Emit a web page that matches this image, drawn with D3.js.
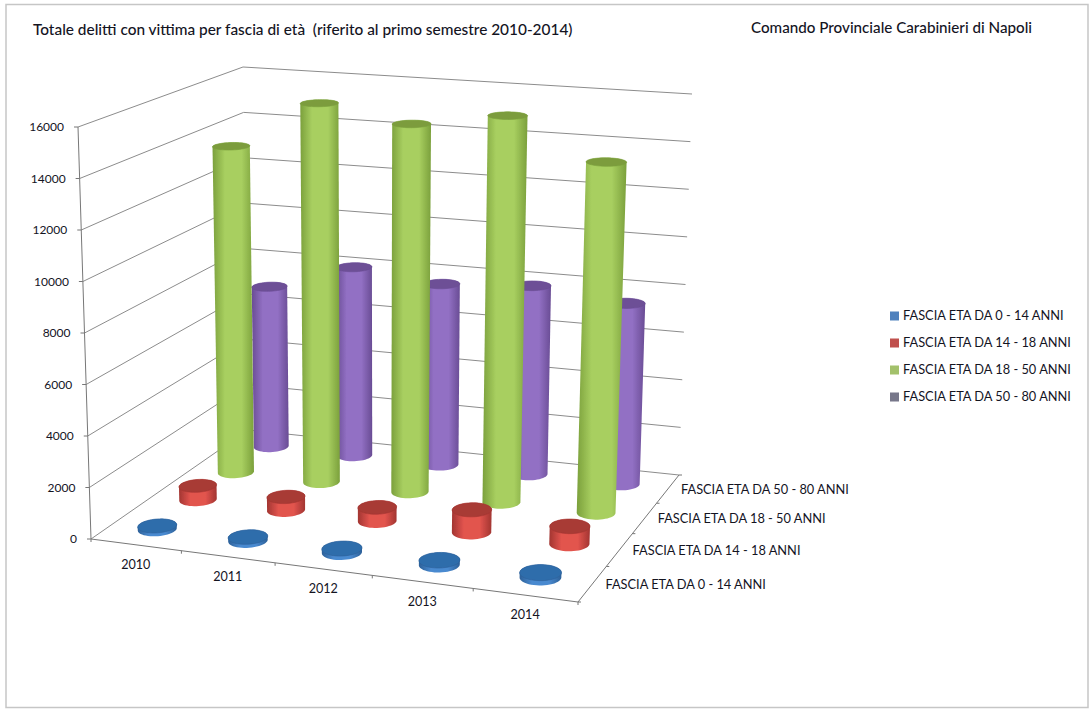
<!DOCTYPE html>
<html>
<head>
<meta charset="utf-8">
<script src="https://d3js.org/d3.v7.min.js"></script>
<style>
  html, body { margin: 0; padding: 0; background: #fff; }
  text { font-family: Lato, "Open Sans", sans-serif; fill: #14141f; white-space: pre; }
</style>
</head>
<body>
<div id="container"></div>
<script>
const years = ['2010', '2011', '2012', '2013', '2014'];
const seriesNames = ['FASCIA ETA DA 0 - 14 ANNI', 'FASCIA ETA DA 14 - 18 ANNI', 'FASCIA ETA DA 18 - 50 ANNI', 'FASCIA ETA DA 50 - 80 ANNI'];
const age0to14 = [130, 140, 150, 170, 180];
const age14to18 = [560, 530, 540, 880, 680];
const age18to50 = [13650, 15700, 15100, 15700, 14100];
const age50to80 = [6900, 8050, 7650, 7900, 7500];
const seriesValues = [age0to14, age14to18, age18to50, age50to80];
const yTicks = [0, 2000, 4000, 6000, 8000, 10000, 12000, 14000, 16000];
const titleText = 'Totale delitti con vittima per fascia di età  (riferito al primo semestre 2010-2014)';
const sourceText = 'Comando Provinciale Carabinieri di Napoli';

const WIDTH = 1091;
const HEIGHT = 709;

// dark edge, light middle, top face, legend swatch
const palette = [
  { edge: '#2c6098', mid: '#4a8ad0', top: '#2f6dab', key: '#4f81bd' },
  { edge: '#a23531', mid: '#e2544e', top: '#a83a35', key: '#c0504d' },
  { edge: '#7ba03c', mid: '#a8cf60', top: '#7b9c3c', key: '#a3c16b' },
  { edge: '#694c94', mid: '#9270c4', top: '#6d5096', key: '#77778a' },
];

// floor and ceiling of the plot box as drawn: front-left, front-right, back-right, back-left
const floorQuad = [[91, 539], [578, 602], [679, 475], [248, 430]];
const topQuad = [[78, 127], [594, 166], [692, 94], [243, 67]];

function squareToQuad(q) {
  const [[x0, y0], [x1, y1], [x2, y2], [x3, y3]] = q;
  const dx1 = x1 - x2, dx2 = x3 - x2, dy1 = y1 - y2, dy2 = y3 - y2;
  const sx = x0 - x1 + x2 - x3, sy = y0 - y1 + y2 - y3;
  const den = dx1 * dy2 - dx2 * dy1;
  const g = (sx * dy2 - dx2 * sy) / den;
  const h = (dx1 * sy - sx * dy1) / den;
  const a = x1 - x0 + g * x1, b = x3 - x0 + h * x3;
  const d = y1 - y0 + g * y1, e = y3 - y0 + h * y3;
  return (u, v) => {
    const k = g * u + h * v + 1;
    return [(a * u + b * v + x0) / k, (d * u + e * v + y0) / k];
  };
}

const floorMap = squareToQuad(floorQuad);
const topMap = squareToQuad(topQuad);

const xScale = d3.scaleBand().domain(years).range([0, 1]);
const zScale = d3.scaleBand().domain(seriesNames).range([0, 1]);
const wScale = d3.scaleLinear().domain([0, 16000]).range([0, 1]);

function project(u, v, w) {
  const f = floorMap(u, v);
  const t = topMap(u, v);
  return [f[0] + (t[0] - f[0]) * w, f[1] + (t[1] - f[1]) * w];
}

const canvas = d3.select('#container').append('svg')
  .attr('width', WIDTH).attr('height', HEIGHT)
  .style('display', 'block');

const defs = canvas.append('defs');
palette.forEach((c, i) => {
  const grad = defs.append('linearGradient').attr('id', `body${i}`);
  grad.append('stop').attr('offset', '0%').attr('stop-color', c.edge);
  grad.append('stop').attr('offset', '30%').attr('stop-color', c.mid);
  grad.append('stop').attr('offset', '70%').attr('stop-color', c.mid);
  grad.append('stop').attr('offset', '100%').attr('stop-color', c.edge);
});
defs.append('filter').attr('id', 'soft')
  .append('feGaussianBlur').attr('stdDeviation', 0.5);

// frame
canvas.append('rect')
  .attr('x', 6).attr('y', 4.5).attr('width', 1082).attr('height', 703)
  .attr('fill', '#fff').attr('stroke', '#c6c6c6').attr('stroke-width', 1.5);

const line = d3.line();
const closedLine = d3.line().curve(d3.curveLinearClosed);

// walls
const grid = canvas.append('g').attr('fill', 'none').attr('stroke', '#8c8c8c').attr('stroke-width', 1);
grid.selectAll('path.level').data(yTicks).join('path')
  .attr('class', 'level')
  .attr('d', (t) => {
    const w = wScale(t);
    return line([project(0, 0, w), project(0, 1, w), project(1, 1, w)]);
  });

// axis lines and ticks
const axes = canvas.append('g').attr('fill', 'none').attr('stroke', '#777').attr('stroke-width', 1);
axes.append('path').attr('d', line([project(0, 0, 1), project(0, 0, 0), project(1, 0, 0), project(1, 1, 0)]));
axes.selectAll('path.ytick').data(yTicks).join('path')
  .attr('class', 'ytick')
  .attr('d', (t) => {
    const p = project(0, 0, wScale(t));
    return line([[p[0] - 4, p[1]], p]);
  });
axes.selectAll('path.xtick').data(d3.range(years.length + 1)).join('path')
  .attr('class', 'xtick')
  .attr('d', (i) => {
    const p = project(i / years.length, 0, 0);
    return line([p, [p[0], p[1] + 3]]);
  });
axes.selectAll('path.ztick').data(d3.range(seriesNames.length + 1)).join('path')
  .attr('class', 'ztick')
  .attr('d', (i) => {
    const p = project(1, i / seriesNames.length, 0);
    return line([p, [p[0] + 3, p[1]]]);
  });

// cylinders, back row first
const RADIUS_U = 0.0385;
const RADIUS_V = 0.055;

function ring(u, v, w) {
  return d3.range(0, 48).map((k) => {
    const a = (k / 48) * 2 * Math.PI;
    return project(u + RADIUS_U * Math.cos(a), v + RADIUS_V * Math.sin(a), w);
  });
}

const bars = canvas.append('g').attr('filter', 'url(#soft)');
d3.range(seriesNames.length).reverse().forEach((s) => {
  const v = zScale(seriesNames[s]) + zScale.bandwidth() / 2;
  years.forEach((year, i) => {
    const u = xScale(year) + xScale.bandwidth() / 2;
    const w = wScale(seriesValues[s][i]);
    const bottom = ring(u, v, 0);
    const top = ring(u, v, w);
    bars.append('path')
      .attr('d', closedLine(d3.polygonHull(bottom.concat(top))))
      .attr('fill', `url(#body${s})`);
    bars.append('path')
      .attr('d', closedLine(top))
      .attr('fill', palette[s].top)
      .attr('stroke', palette[s].edge)
      .attr('stroke-width', 0.6);
  });
});

// axis labels
const labels = canvas.append('g').attr('font-size', 12);
labels.selectAll('text.ylab').data(yTicks).join('text')
  .attr('class', 'ylab')
  .attr('text-anchor', 'end')
  .attr('x', (t) => project(0, 0, wScale(t))[0] - 14)
  .attr('y', (t) => project(0, 0, wScale(t))[1] + 4)
  .text((t) => t);
labels.selectAll('text.xlab').data(years).join('text')
  .attr('class', 'xlab')
  .attr('text-anchor', 'middle')
  .attr('font-size', 12.6)
  .attr('x', (d) => project(xScale(d) + xScale.bandwidth() / 2, 0, 0)[0])
  .attr('y', (d) => project(xScale(d) + xScale.bandwidth() / 2, 0, 0)[1] + 24)
  .text((d) => d);
labels.selectAll('text.zlab').data(seriesNames).join('text')
  .attr('class', 'zlab')
  .attr('font-size', 12.8)
  .attr('x', (d) => project(1, zScale(d) + zScale.bandwidth() / 2, 0)[0] + 13)
  .attr('y', (d) => project(1, zScale(d) + zScale.bandwidth() / 2, 0)[1] + 5)
  .text((d) => d);

// legend
const legend = canvas.append('g').attr('font-size', 12.8);
const legendY = d3.scalePoint().domain(seriesNames).range([316, 397]);
legend.selectAll('rect').data(seriesNames).join('rect')
  .attr('x', 890).attr('y', (d) => legendY(d) - 4.5)
  .attr('width', 9).attr('height', 9)
  .attr('fill', (d, i) => palette[i].key);
legend.selectAll('text').data(seriesNames).join('text')
  .attr('x', 903).attr('y', (d) => legendY(d) + 4)
  .text((d) => d);

// headings
canvas.append('text').attr('x', 33).attr('y', 35)
  .attr('font-size', 15.4).attr('font-weight', 500).text(titleText);
canvas.append('text').attr('x', 751).attr('y', 33)
  .attr('font-size', 15.2).attr('font-weight', 500).text(sourceText);
</script>
</body>
</html>
